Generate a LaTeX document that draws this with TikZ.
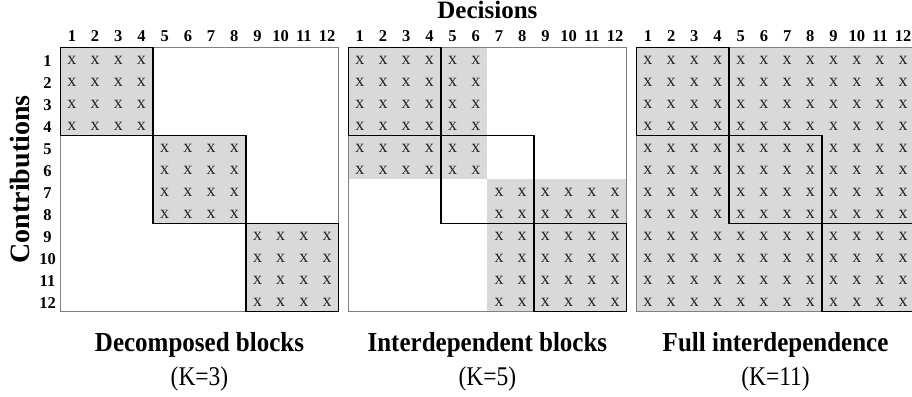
\documentclass[tikz,border=0pt]{standalone}
\usepackage{fontspec}
\setmainfont{Liberation Serif}
\usetikzlibrary{positioning}

\tikzset{
  cellmark/.style={font=\fontsize{18}{18}\selectfont, text=black!85, inner sep=0pt, anchor=base},
  numlabel/.style={font=\fontsize{16.5}{17}\selectfont\bfseries, inner sep=0pt, anchor=base},
  axislabel/.style={font=\fontsize{25}{25}\selectfont\bfseries, inner sep=0pt},
  titlelabel/.style={font=\fontsize{25}{25}\selectfont\bfseries, inner sep=0pt, yscale=1.1},
  klabel/.style={font=\fontsize{23.5}{23.5}\selectfont, inner sep=0pt, yscale=1.15},
  shaded/.style={fill=black!15, draw=none},
  blockline/.style={draw=black, line width=1.4pt},
  matframe/.style={draw=black!50, line width=0.9pt}
}

\begin{document}
\begin{tikzpicture}[x=23.2pt, y=22pt]
	\useasboundingbox (-2.599,2.15) rectangle (36.711,-15.895);

	% decomposed blocks
	\begin{scope}[shift={(0,0)}]
		\foreach \b in {0,4,8}
			\fill[shaded] (\b,-\b) rectangle (\b+4,-\b-4);
		\foreach \b in {0,4,8}
			\foreach \i in {1,...,4}
				\foreach \j in {1,...,4}
					\node[cellmark] (da-\b-\i-\j) at (\b+\j-0.5,-\b-\i+0.2) {x};
		\draw[matframe] (0,0) rectangle (12,-12);
		\foreach \b in {0,4,8}
			\draw[blockline] (\b,-\b) rectangle (\b+4,-\b-4);
		\foreach \j in {1,...,12}
			\node[numlabel] (dcol-\j) at (\j-0.5,0.255) {\j};
		\node[titlelabel] (dtitle) at (6,-13.53) {Decomposed blocks};
		\node[klabel] (dk) at (6,-15.08) {(K=3)};
	\end{scope}

	% row numbers
	\foreach \i in {1,...,12}
		\node[numlabel] (row-\i) at (-0.55,-\i+0.15) {\i};
	\node[axislabel, font=\fontsize{28}{28}\selectfont\bfseries, rotate=90] (contrib) at (-1.74,-6) {Contributions};

	% interdependent blocks
	\begin{scope}[shift={(12.41,0)}]
		\foreach \b in {0,6}
			\fill[shaded] (\b,-\b) rectangle (\b+6,-\b-6);
		\foreach \b in {0,6}
			\foreach \i in {1,...,6}
				\foreach \j in {1,...,6}
					\node[cellmark] (ib-\b-\i-\j) at (\b+\j-0.5,-\b-\i+0.2) {x};
		\draw[matframe] (0,0) rectangle (12,-12);
		\foreach \b in {0,4,8}
			\draw[blockline] (\b,-\b) rectangle (\b+4,-\b-4);
		\foreach \j in {1,...,12}
			\node[numlabel] (icol-\j) at (\j-0.5,0.255) {\j};
		\node[axislabel] (decis) at (6,1.7) {Decisions};
		\node[titlelabel] (ititle) at (6,-13.53) {Interdependent blocks};
		\node[klabel] (ik) at (6,-15.08) {(K=5)};
	\end{scope}

	% full interdependence
	\begin{scope}[shift={(24.83,0)}]
		\fill[shaded] (0,0) rectangle (12,-12);
		\foreach \i in {1,...,12}
			\foreach \j in {1,...,12}
				\node[cellmark] (fi-\i-\j) at (\j-0.5,-\i+0.2) {x};
		\draw[matframe] (0,0) rectangle (12,-12);
		\foreach \b in {0,4,8}
			\draw[blockline] (\b,-\b) rectangle (\b+4,-\b-4);
		\foreach \j in {1,...,12}
			\node[numlabel] (fcol-\j) at (\j-0.5,0.255) {\j};
		\node[titlelabel] (ftitle) at (6,-13.53) {Full interdependence};
		\node[klabel] (fk) at (6,-15.08) {(K=11)};
	\end{scope}
\end{tikzpicture}
\end{document}
